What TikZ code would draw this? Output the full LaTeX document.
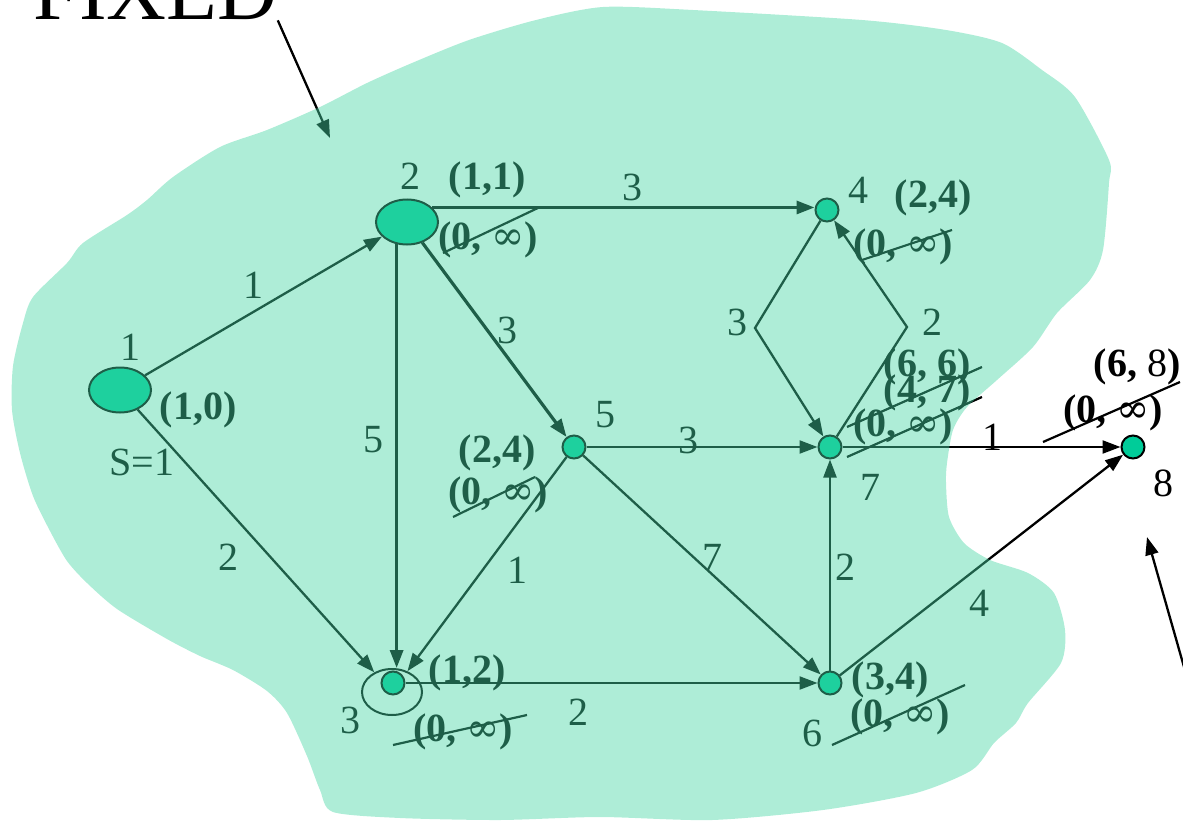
\documentclass[tikz,border=0pt]{standalone}
\usepackage{fontspec}
\setmainfont{Liberation Serif}
\newfontfamily\symf{DejaVu Serif}
\usetikzlibrary{arrows.meta,calc,shapes.geometric}
\definecolor{nodec}{RGB}{0,204,153}
\definecolor{blobc}{RGB}{70,215,165}
\newcommand{\infsym}{{\symf\mdseries ∞}}
\begin{document}
\begin{tikzpicture}[x=1pt,y=-1pt,
  vtx/.style={circle,draw,line width=2pt,fill=nodec,minimum size=23pt,inner sep=0pt},
  bigv/.style={ellipse,draw,line width=2pt,fill=nodec,minimum width=62pt,minimum height=45pt,inner sep=0pt},
  ring/.style={ellipse,draw,line width=2pt,minimum width=60pt,minimum height=46pt,inner sep=0pt},
  lab/.style={font=\fontsize{40}{44}\selectfont,inner sep=0pt},
  blab/.style={font=\fontsize{40}{44}\selectfont\bfseries,inner sep=0pt},
  edge/.style={line width=2.3pt,-{Triangle[length=18pt,width=13pt]}},
  thick edge/.style={edge,line width=3.2pt},
  strike/.style={line width=2.2pt}]
\useasboundingbox (0,0) rectangle (1183,824);

% FIXED
\node[font=\fontsize{83}{90}\selectfont,anchor=base west,inner sep=0pt] (fixed) at (33,20) {FIXED};
\coordinate (fixtip) at (330,138);
\coordinate (fix2start) at (1190,688);
\coordinate (fix2tip) at (1147,537);

% vertices
\node[bigv] (n1) at (120,390) {};
\node[bigv] (n2) at (407,222) {};
\node[vtx] (n3) at (393,683) {};
\node[ring] (n3r) at (392,692) {};
\node[vtx] (n4) at (827,210) {};
\node[vtx] (n5) at (574,447) {};
\node[vtx] (n6) at (830,683) {};
\node[vtx] (n7) at (830,447) {};
\node[vtx] (n8) at (1133,447) {};
\coordinate (dl) at (755,328);
\coordinate (dr) at (907,327);

% edges
\draw[edge] (n1) -- (n2);
\draw[edge] (n1) -- (n3r);
\draw[thick edge] (n2.30) -- (n2.30 -| n4.west);
\draw[thick edge] (n2.245) -- (n2.245 |- n3r.north);
\draw[thick edge] (n2) -- (n5);
\draw[edge] (n5) -- (n7);
\draw[edge] (n5) -- (n3r);
\draw[edge] (n5) -- (n6);
\draw[edge] (n3) -- (n6);
\draw[edge] (n6) -- (n7);
\draw[edge] (n7) -- (n8);
\draw[edge] (n6) -- (n8);
\draw[edge] (n4) -- (dl) -- (n7);
\draw[edge] (n7) -- (dr) -- (n4);
\draw[edge] (fixed.south east) -- (fixtip);
\draw[edge] (fix2start) -- (fix2tip);

% edge weights
\node[lab] (w12) at (253,285) {1};
\node[lab] (w13) at (228,557) {2};
\node[lab] (w24) at (632,187) {3};
\node[lab] (w23) at (373,440) {5};
\node[lab] (w25) at (507,330) {3};
\node[lab] (w57) at (688,440) {3};
\node[lab] (w53) at (517,570) {1};
\node[lab] (w56) at (712,557) {7};
\node[lab] (w67) at (845,567) {2};
\node[lab] (w68) at (979,603) {4};
\node[lab] (w36) at (578,712) {2};
\node[lab] (w78) at (992,437) {1};
\node[lab] (w47) at (737,322) {3};
\node[lab] (w74) at (932,322) {2};

% vertex names
\node[lab] (t1) at (130,347) {1};
\node[lab] (s1) at (142,462) {S=1};
\node[lab] (t2) at (410,176) {2};
\node[lab] (t3) at (350,720) {3};
\node[lab] (t4) at (858,190) {4};
\node[lab] (t5) at (605,415) {5};
\node[lab] (t6) at (812,733) {6};
\node[lab] (t7) at (870,487) {7};
\node[lab] (t8) at (1163,483) {8};

% distance labels
\node[blab] (d1) at (198,410) {(1,0)};
\node[blab] (d2a) at (487,180) {(1,1)};
\node[blab] (d2b) at (488,240) {(0, \infsym)};
\node[blab] (d4a) at (933,198) {(2,4)};
\node[blab] (d4b) at (903,247) {(0, \infsym)};
\node[blab] (d5a) at (497,453) {(2,4)};
\node[blab] (d5b) at (498,495) {(0, \infsym)};
\node[blab] (d3a) at (467,673) {(1,2)};
\node[blab] (d3b) at (463,732) {(0, \infsym)};
\node[blab] (d6a) at (890,680) {(3,4)};
\node[blab] (d6b) at (900,717) {(0, \infsym)};
\node[blab] (d7a) at (927,367) {(6, 6)};
\node[blab] (d7b) at (927,393) {(4, 7)};
\node[blab] (d7c) at (903,427) {(0, \infsym)};
\node[blab] (d8a) at (1137,367) {(6, {\mdseries 8})};
\node[blab] (d8b) at (1113,413) {(0, \infsym)};

% strike-outs
\draw[strike] (443,253) -- (540,207);
\draw[strike] (862,260) -- (952,230);
\draw[strike] (453,517) -- (535,477);
\draw[strike] (393,745) -- (527,715);
\draw[strike] (832,745) -- (965,685);
\draw[strike] (847,427) -- (982,367);
\draw[strike] (847,457) -- (982,397);
\draw[strike] (1043,442) -- (1180,382);

% FIXED region (translucent overlay)
\fill[blobc,fill opacity=0.44] plot[smooth cycle,tension=0.45] coordinates {
(147,200) (173,177) (220,147) (267,130) (320,107) (367,83) (412,63) (469,40)
(536,20) (603,7) (693,10) (862,20) (946,30) (1002,43) (1042,70) (1075,97)
(1109,160) (1109,183) (1103,250) (1090,280) (1057,313) (1033,347) (997,380)
(967,407) (953,430) (947,463) (946,483) (949,517) (964,543) (990,560)
(1028,573) (1054,593) (1065,630) (1061,663) (1028,703) (1016,723) (994,743)
(972,770) (916,793) (823,810) (712,820) (600,817) (500,820) (400,818)
(333,812) (320,790) (307,756) (287,713) (267,691) (233,670) (200,656)
(167,639) (117,609) (87,583) (67,561) (50,531) (33,496) (20,453) (12,410)
(13,366) (23,323) (33,297) (67,263) (83,243) (127,215)};
\end{tikzpicture}
\end{document}
